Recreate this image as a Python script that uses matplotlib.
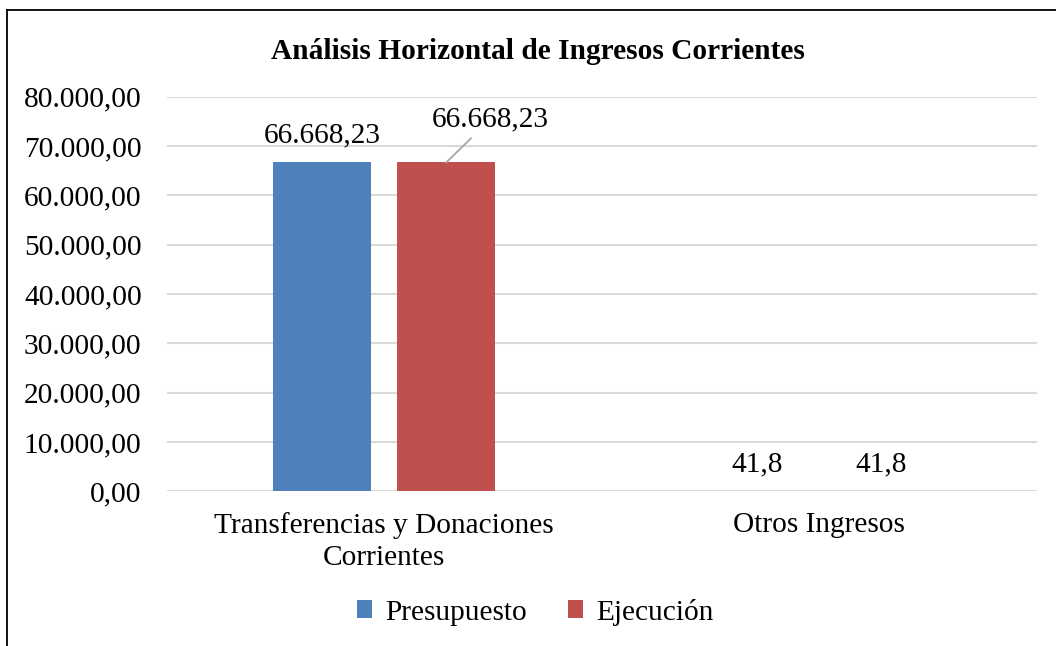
import matplotlib
matplotlib.use("Agg")
from matplotlib import pyplot as plt
from matplotlib.lines import Line2D
from matplotlib.ticker import FuncFormatter
import numpy

matplotlib.rcParams.update({
    'font.family': ['Liberation Serif', 'DejaVu Serif'],
})

categories = ["Transferencias y Donaciones\nCorrientes", "Otros Ingresos"]
series_names = ["Presupuesto", "Ejecución"]
presupuesto = [66668.23, 41.8]
ejecucion = [66668.23, 41.8]
yticks = [0, 10000, 20000, 30000, 40000, 50000, 60000, 70000, 80000]

colours = ["#4F81BD", "#C0504D"]
fs = 21.2


def es_num(v, dec=2):
    # spanish style: 80.000,00
    s = f"{v:,.{dec}f}"
    return s.replace(",", "X").replace(".", ",").replace("X", ".")


def label_text(v):
    if v >= 1000:
        return es_num(v, 2)
    return str(v).replace(".", ",")


fig = plt.figure(figsize=(10.56, 6.46), dpi=100)
ax = fig.add_axes([0.1578, 0.2392, 0.9820 - 0.1578, 0.8503 - 0.2392])

x = numpy.arange(len(categories))
off = 0.1425
w = 0.224
bars1 = ax.bar(x - off, presupuesto, w, color=colours[0], label=series_names[0], zorder=3)
bars2 = ax.bar(x + off, ejecucion, w, color=colours[1], label=series_names[1], zorder=3)

ax.set_xlim(-0.5, 1.5)
ax.set_ylim(0, 80000)
ax.set_yticks(yticks)
ax.yaxis.set_major_formatter(FuncFormatter(lambda v, p: es_num(v, 2)))
ax.set_xticks(x)
ax.set_xticklabels(categories, fontsize=fs, linespacing=1.3)
ax.tick_params(axis='y', length=0, pad=18, labelsize=fs)
ax.tick_params(axis='x', length=0, pad=15)
ax.grid(axis='y', color='#D9D9D9', linewidth=1.5, zorder=0)
for sp in ax.spines.values():
    sp.set_visible(False)

# data labels
for b, v in zip(bars1, presupuesto):
    ax.annotate(label_text(v), (b.get_x() + b.get_width() / 2, v), xytext=(0, 27),
                textcoords='offset pixels', ha='center', va='center', fontsize=fs)
for i, (b, v) in enumerate(zip(bars2, ejecucion)):
    if i == 0:
        ax.annotate(label_text(v), (b.get_x() + b.get_width() / 2, v), xytext=(44, 43),
                    textcoords='offset pixels', ha='center', va='center', fontsize=fs,
                    arrowprops=dict(arrowstyle='-', color='#A6A6A6', lw=1.3,
                                    shrinkA=3, shrinkB=0))
    else:
        ax.annotate(label_text(v), (b.get_x() + b.get_width() / 2, v), xytext=(0, 27),
                    textcoords='offset pixels', ha='center', va='center', fontsize=fs)

fig.text(0.5095, 0.921, "Análisis Horizontal de Ingresos Corrientes", ha='center', va='center',
         fontsize=fs, fontweight='bold')

fig.legend(loc='center', bbox_to_anchor=(0.507, 0.0526), ncol=2, frameon=False, fontsize=fs,
           handlelength=0.53, handleheight=0.53, handletextpad=0.45, columnspacing=1.37)

# outer frame (cut off at right and bottom)
fig.add_artist(Line2D([7 / 1056, 7 / 1056], [0, 1 - 10 / 646], color='black', lw=1.3,
                      transform=fig.transFigure))
fig.add_artist(Line2D([7 / 1056, 1], [1 - 10 / 646, 1 - 10 / 646], color='black', lw=1.3,
                      transform=fig.transFigure))

plt.savefig("out.png", dpi=100)
